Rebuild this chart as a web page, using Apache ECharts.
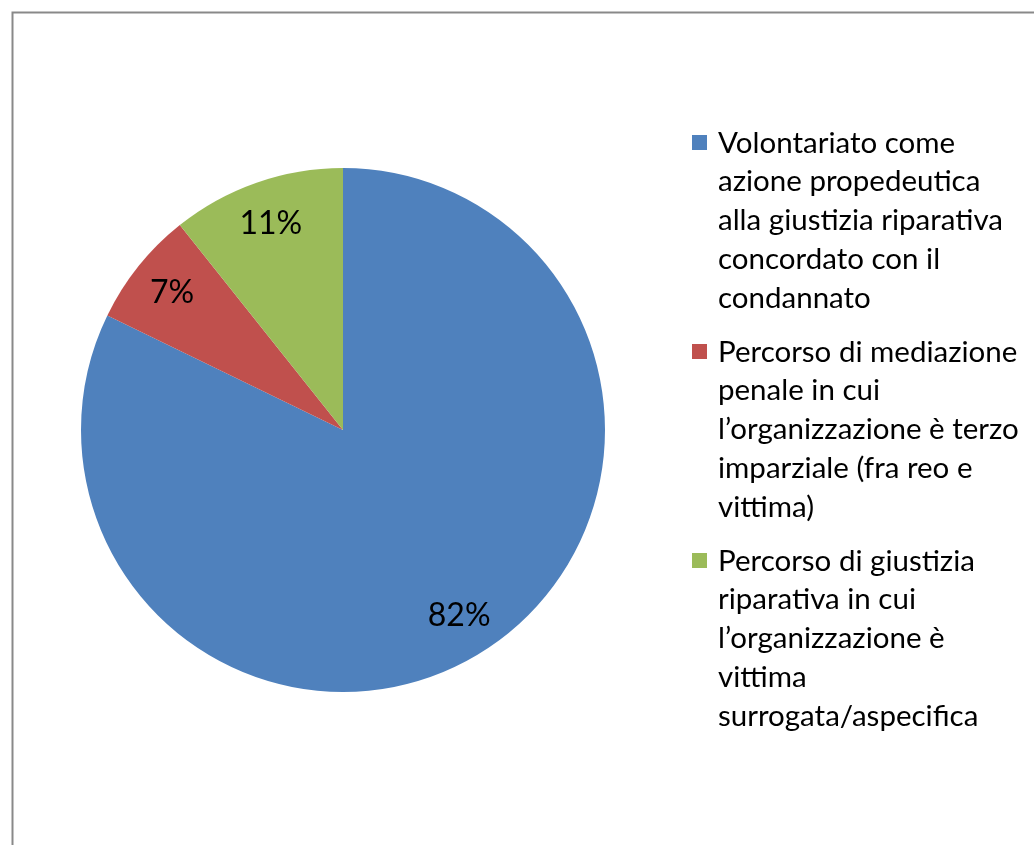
<!DOCTYPE html>
<html>
<head>
<meta charset="utf-8">
<script src="https://cdn.jsdelivr.net/npm/echarts@6/dist/echarts.min.js"></script>
<style>
html,body{margin:0;padding:0;background:#fff;}
#c{width:1034px;height:845px;}
</style>
</head>
<body>
<div id="c"></div>
<script>
// Data
const categories = [
  "Volontariato come\nazione propedeutica\nalla giustizia riparativa\nconcordato con il\ncondannato",
  "Percorso di mediazione\npenale in cui\nl’organizzazione è terzo\nimparziale (fra reo e\nvittima)",
  "Percorso di giustizia\nriparativa in cui\nl’organizzazione è\nvittima\nsurrogata/aspecifica"
];
const values = [82.2, 7.1, 10.7];
const colors = ["#4F81BD", "#C0504D", "#9BBB59"];

const FONT = "Lato, 'Liberation Sans', sans-serif";
const chart = echarts.init(document.getElementById('c'), null, {renderer: 'canvas'});

const data = categories.map((c, i) => ({name: c, value: values[i], itemStyle: {color: colors[i]}}));
const total = values.reduce((a, b) => a + b, 0);

// legend graphics built from categories
const graphics = [{
  type: 'rect', left: 10, top: 10, silent: true,
  shape: {x: 0, y: 0, width: 1100, height: 900},
  style: {fill: 'none', stroke: '#898989', lineWidth: 2}
}];
const LH = 38.8;
let y = 143;
categories.forEach((c, i) => {
  const n = c.split('\n').length;
  graphics.push({type: 'rect', silent: true, shape: {x: 692, y: y - 8, width: 15, height: 15}, style: {fill: colors[i]}});
  graphics.push({type: 'text', silent: true, x: 718, y: y - LH / 2,
    style: {text: c, fill: '#000', font: '29.5px ' + FONT, lineHeight: LH, verticalAlign: 'top', textVerticalAlign: 'top'}});
  y += n * LH + 15;
});

chart.setOption({
  animation: false,
  backgroundColor: '#fff',
  graphic: graphics,
  series: [{
    type: 'pie',
    center: [343, 430],
    radius: 262,
    startAngle: 90,
    clockwise: true,
    label: {show: false},
    labelLine: {show: false},
    silent: true,
    data: data
  }, {
    type: 'pie',
    center: [343, 430],
    radius: [0, 432],
    startAngle: 90,
    clockwise: true,
    silent: true,
    itemStyle: {color: 'rgba(0,0,0,0)'},
    label: {
      show: true, position: 'inside', color: '#000',
      fontFamily: FONT, fontSize: 32,
      formatter: p => Math.round(p.value / total * 100) + '%'
    },
    labelLine: {show: false},
    data: values.map((v, i) => ({name: 'l' + i, value: v}))
  }]
});
</script>
</body>
</html>
